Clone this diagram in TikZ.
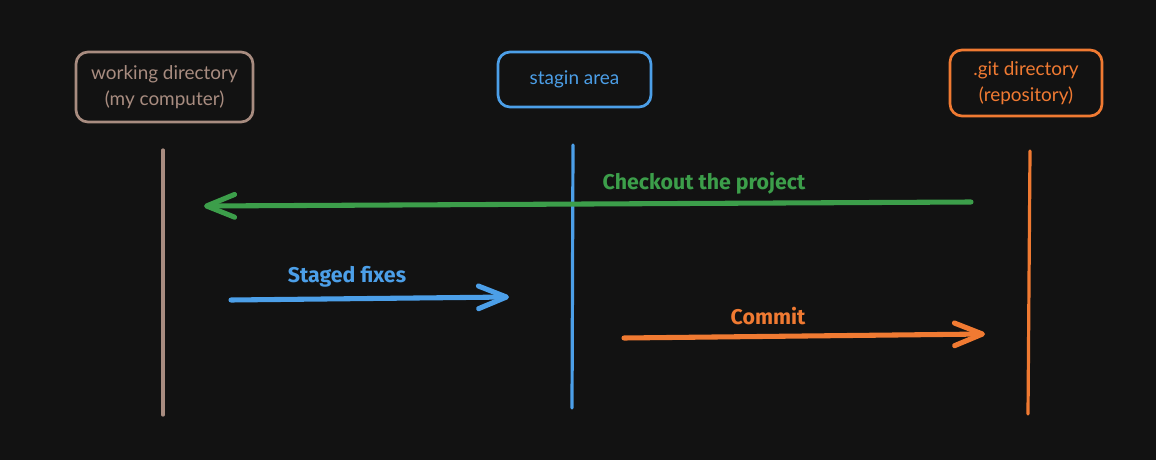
\documentclass[tikz,border=0pt]{standalone}
\usepackage{fontspec}
\setmainfont{Lato}
\newfontfamily\labelfont{Fira Sans}
\usetikzlibrary{arrows.meta}
\definecolor{bg}{HTML}{121212}
\definecolor{cbrown}{HTML}{A88C80}
\definecolor{cblue}{HTML}{4C9FE8}
\definecolor{cgreen}{HTML}{3C9E4A}
\definecolor{corange}{HTML}{F07A32}
\tikzset{
  actor/.style={draw=#1, text=#1, line width=2pt, rounded corners=9pt, align=center,
    font=\fontsize{14.2}{20}\selectfont, inner sep=0pt},
  lifeline/.style={draw=#1, line width=2.4pt, line cap=round},
  msg/.style={draw=#1, line width=3.8pt, line cap=round,
    -{Straight Barb[length=21pt, width=17pt, round, line width=3.8pt]}},
  msglabel/.style={text=#1, font=\labelfont\bfseries\fontsize{16}{19}\selectfont, inner sep=0pt}
}
\begin{document}
\begin{tikzpicture}[x=0.75pt, y=-0.75pt]
\fill[bg] (0,0) rectangle (1156,460);
\useasboundingbox (0,0) rectangle (1156,460);

% actors
\node[actor=cbrown, minimum width=177*0.75pt, minimum height=70*0.75pt] (wd) at (164.5,87) {working directory\\(my computer)};
\node[actor=cblue, minimum width=153*0.75pt, minimum height=55*0.75pt] (sa) at (574.5,79.5) {stagin area};
\node[actor=corange, minimum width=152*0.75pt, minimum height=66*0.75pt] (gd) at (1026,83) {.git directory\\(repository)};

% lifelines
\coordinate (wdt) at (163,150); \coordinate (wdb) at (163,415);
\coordinate (sat) at (573,145); \coordinate (sab) at (572,408);
\coordinate (gdt) at (1030,151); \coordinate (gdb) at (1028,414);
\draw[lifeline=cbrown] (wdt) -- (wdb);
\draw[lifeline=cblue] (sat) -- (sab);
\draw[lifeline=corange] (gdt) -- (gdb);

% messages
\coordinate (c1) at (971,202); \coordinate (c2) at (204,206);
\draw[msg=cgreen] (c1) -- (c2);
\node[msglabel=cgreen] (l1) at (704,183) {Checkout the project};

\coordinate (s1) at (231,300); \coordinate (s2) at (509,297);
\draw[msg=cblue] (s1) -- (s2);
\node[msglabel=cblue] (l2) at (347,277) {Staged fixes};

\coordinate (m1) at (624,338); \coordinate (m2) at (985,334);
\draw[msg=corange] (m1) -- (m2);
\node[msglabel=corange] (l3) at (768,316) {Commit};
\end{tikzpicture}
\end{document}
